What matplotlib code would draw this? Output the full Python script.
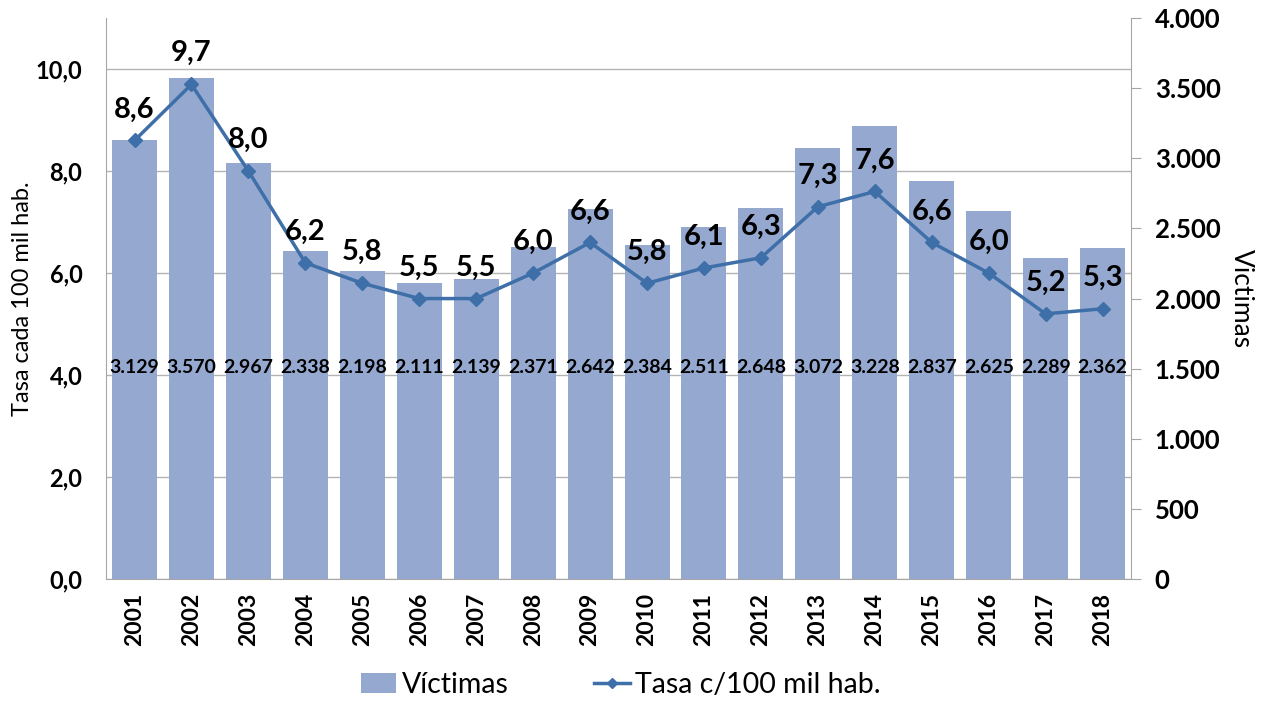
import matplotlib.pyplot as plt
import numpy as np

plt.rcParams['font.family'] = ['Lato', 'DejaVu Sans']

years = ['2001', '2002', '2003', '2004', '2005', '2006', '2007', '2008', '2009',
         '2010', '2011', '2012', '2013', '2014', '2015', '2016', '2017', '2018']
victimas = [3129, 3570, 2967, 2338, 2198, 2111, 2139, 2371, 2642,
            2384, 2511, 2648, 3072, 3228, 2837, 2625, 2289, 2362]
tasa = [8.6, 9.7, 8.0, 6.2, 5.8, 5.5, 5.5, 6.0, 6.6,
        5.8, 6.1, 6.3, 7.3, 7.6, 6.6, 6.0, 5.2, 5.3]

bar_color = '#95A9D0'
line_color = '#3F6FA8'
axis_gray = '#A6A6A6'

def fmt_es(v, dec):
    s = f"{v:,.{dec}f}"
    return s.replace(',', 'X').replace('.', ',').replace('X', '.')

fig = plt.figure(figsize=(12.67, 7.02), dpi=100)
ax1 = fig.add_axes([0.0837, 0.1752, 0.809, 0.799])
ax2 = ax1.twinx()
ax3 = ax1.twinx()

x = np.arange(len(years))

# left axis: grid + ticks
ax1.set_ylim(0, 11)
ax1.set_yticks(np.arange(0, 11, 2))
ax1.set_yticklabels([fmt_es(v, 1) for v in np.arange(0, 11, 2)],
                    fontsize=17, fontweight='bold')
ax1.yaxis.grid(True, color='#B3B3B3', linewidth=1)
ax1.set_axisbelow(True)
ax1.tick_params(axis='y', length=0, pad=17)
ax1.set_ylabel('Tasa cada 100 mil hab.', fontsize=17, labelpad=2)
ax1.set_xlim(-0.5, len(years) - 0.5)
ax1.set_xticks(x)
ax1.set_xticklabels(years, rotation=90, fontsize=16.5, fontweight='bold')
ax1.tick_params(axis='x', length=0, pad=10)
for s in ['top', 'right']:
    ax1.spines[s].set_visible(False)
for s in ['left', 'bottom']:
    ax1.spines[s].set_color(axis_gray)

# bars on right axis
ax2.bar(x, victimas, width=0.79, color=bar_color, zorder=2)
ax2.set_ylim(0, 4000)
ax2.set_yticks(np.arange(0, 4001, 500))
ax2.set_yticklabels([fmt_es(v, 0) for v in np.arange(0, 4001, 500)],
                    fontsize=18.5, fontweight='bold')
ax2.tick_params(axis='y', length=7, color=axis_gray, pad=10)
ax2.set_ylabel('Victimas', fontsize=19, rotation=270, labelpad=24)
for s in ['top', 'left', 'bottom']:
    ax2.spines[s].set_visible(False)
ax2.spines['right'].set_color(axis_gray)
for xi, v in zip(x, victimas):
    ax2.text(xi, 1510, fmt_es(v, 0), ha='center', va='center',
             fontsize=14, fontweight='bold')

# line on top
ax3.set_ylim(0, 11)
ax3.plot(x, tasa, color=line_color, linewidth=2.5, marker='D', markersize=7)
ax3.set_yticks([])
for s in ax3.spines.values():
    s.set_visible(False)
for xi, v in zip(x, tasa):
    ax3.annotate(fmt_es(v, 1), (xi, v), xytext=(0, 13), textcoords='offset points',
                 ha='center', va='bottom', fontsize=21, fontweight='bold')

bars = ax2.containers[0]
line = ax3.lines[0]
fig.legend([bars, line], ['Víctimas', 'Tasa c/100 mil hab.'], loc='center',
           bbox_to_anchor=(0.49, 0.024), ncol=2, frameon=False, fontsize=20.5,
           columnspacing=3.0, handlelength=1.25, handletextpad=0.2, markerscale=0.8)

fig.savefig('out.png', dpi=100)
